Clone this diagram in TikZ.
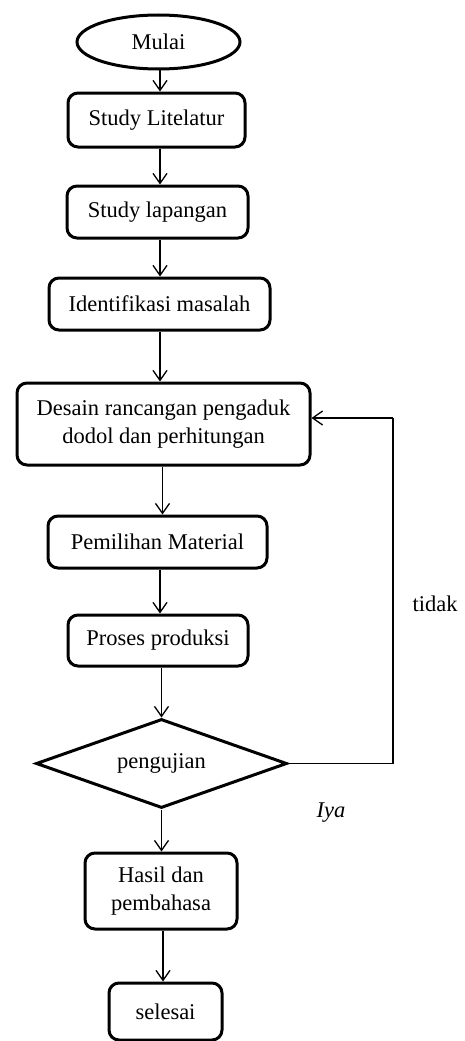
\documentclass[tikz,border=0pt]{standalone}
\usepackage{fontspec}
\setmainfont{Liberation Serif}
\usetikzlibrary{shapes.geometric,arrows.meta}
\begin{document}
\begin{tikzpicture}[x=1pt,y=-1pt,
  every node/.style={font=\fontsize{22.5}{28}\selectfont, inner sep=0pt},
  procbox/.style={draw, line width=3pt, rounded corners=10pt, rectangle, align=center},
  termshape/.style={draw, line width=3pt, ellipse},
  decide/.style={draw, line width=3pt, diamond, aspect=2.8},
  conn/.style={line width=1.3pt, -{Straight Barb[length=10pt,width=14pt,line width=1.3pt]}},
  plain/.style={line width=1.3pt}]
\useasboundingbox (0,0) rectangle (464,1041);
\node[termshape, minimum width=163pt, minimum height=54pt] (mulai) at (158.5,42) {Mulai};
\node[procbox, minimum width=177pt, minimum height=54pt] (lit) at (156.5,120) {Study Litelatur};
\node[procbox, minimum width=181pt, minimum height=52pt] (lap) at (157.5,212) {Study lapangan};
\node[procbox, minimum width=221pt, minimum height=52pt] (ident) at (159.5,304) {Identifikasi masalah};
\node[procbox, minimum width=293pt, minimum height=82pt] (desain) at (163.5,424) {Desain rancangan pengaduk\\dodol dan perhitungan};
\node[procbox, minimum width=219pt, minimum height=52pt] (pemil) at (157.5,542) {Pemilihan Material};
\node[procbox, minimum width=180pt, minimum height=51pt] (proses) at (158,640.5) {Proses produksi};
\node[decide, minimum width=251pt, minimum height=89pt] (uji) at (161.5,763.5) {pengujian};
\node[procbox, minimum width=152pt, minimum height=76pt] (hasil) at (161,891) {Hasil dan\\pembahasa};
\node[procbox, minimum width=113pt, minimum height=57pt] (selesai) at (165.5,1011.5) {selesai};
\node (tidak) at (435,604) {tidak};
\node[font=\fontsize{22.5}{28}\selectfont\itshape] (iya) at (331,813) {Iya};
\coordinate (c1) at (393,763.5);
\coordinate (c2) at (393,418);
\draw[conn] (mulai.south -| 160,0) -- (160,0 |- lit.north);
\draw[conn] (lit.south -| 160,0) -- (160,0 |- lap.north);
\draw[conn] (lap.south -| 160,0) -- (160,0 |- ident.north);
\draw[conn] (ident.south -| 160,0) -- (160,0 |- desain.north);
\draw[conn] (desain.south -| 162.5,0) -- (162.5,0 |- pemil.north);
\draw[conn] (pemil.south -| 160,0) -- (160,0 |- proses.north);
\draw[conn] (proses.south -| uji.north) -- (uji.north);
\draw[conn] (uji.south) -- (uji.south |- hasil.north);
\draw[conn] (hasil.south -| 163,0) -- (163,0 |- selesai.north);
\draw[plain] (uji.east) -- (c1) -- (c2);
\draw[conn] (c2) -- (desain.east |- c2);
\end{tikzpicture}
\end{document}
